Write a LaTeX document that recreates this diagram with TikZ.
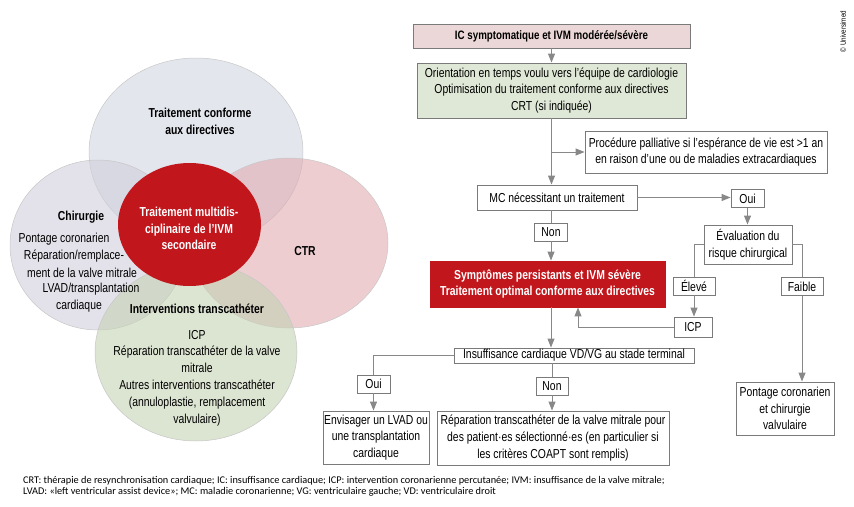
\documentclass[tikz,border=0pt]{standalone}
\usepackage{fontspec}
\setmainfont{Liberation Sans}[FakeStretch=0.8]
\newfontfamily\notefont{Carlito}
\usepackage{xcolor}
\usetikzlibrary{arrows.meta,calc,positioning}
\definecolor{boxline}{HTML}{7A7A7A}
\definecolor{connline}{HTML}{888888}
\definecolor{ivmred}{HTML}{C1161C}
\definecolor{pinkfill}{HTML}{EBD7D7}
\definecolor{greenfill}{HTML}{DFE8D6}
\definecolor{vennblue}{RGB}{210,213,227}
\definecolor{venngray}{RGB}{208,207,220}
\definecolor{vennpink}{RGB}{225,172,177}
\definecolor{venngreen}{RGB}{197,210,180}
\newcommand{\boxfont}{\fontsize{13}{16.8}\selectfont}
\newcommand{\notesize}{\notefont\fontsize{10.3}{10}\selectfont}

\begin{document}
\begin{tikzpicture}[x=1pt,y=-1pt]
		\tikzstyle{every node}=[font=\boxfont, inner sep=0pt]
		\tikzstyle{head}=[font=\boxfont\bfseries, align=center]
		\tikzstyle{box}=[draw=boxline, line width=0.9pt, fill=white, align=center]
		\tikzstyle{tag}=[box, minimum height=18, minimum width=33]
		\tikzstyle{conn}=[draw=connline, line width=1pt]
		\tikzstyle{arr}=[conn, -{Triangle[length=9pt,width=7pt]}]
		\tikzstyle{venn}=[draw=black!22, line width=0.5pt, fill opacity=0.6]
		\useasboundingbox (0,0) rectangle (854,506);
		% Venn
		\draw [venn, fill=vennblue] (196,152) ellipse [x radius=107, y radius=94];
		\draw [venn, fill=venngray] (98,245) ellipse [x radius=88, y radius=85];
		\draw [venn, fill=vennpink] (289,243) ellipse [x radius=99, y radius=85];
		\draw [venn, fill=venngreen] (196,352) ellipse [x radius=101, y radius=89];
		\fill [ivmred] (189.5,224.5) ellipse [x radius=71.5, y radius=61.5];
		\node [head] (gdmt) at (200,121.5) {Traitement conforme\\aux directives};
		\node [head] (chir) at (81,217) {Chirurgie};
		\node (chir1) at (64,239) {Pontage coronarien};
		\node (chir2) at (74,256) {Réparation/remplace-};
		\node (chir3) at (82,272.5) {ment de la valve mitrale};
		\node (chir4) at (91,289) {LVAD/transplantation};
		\node (chir5) at (79,306) {cardiaque};
		\node [head, text=white] (multi) at (189,228.5) {Traitement multidis-\\ciplinaire de l'IVM\\secondaire};
		\node [head] (ctr) at (305,251) {CTR};
		\node [head] (trans) at (197,309) {Interventions transcathéter};
		\node [align=center] (trans1) at (197,378) {ICP\\Réparation transcathéter de la valve\\mitrale\\Autres interventions transcathéter\\(annuloplastie, remplacement\\valvulaire)};
		% Flowchart
		\node [box, fill=pinkfill, font=\fontsize{12.2}{16}\selectfont\bfseries, minimum width=277, minimum height=24] (start) at (551.5,36) {IC symptomatique et IVM modérée/sévère};
		\node [box, fill=greenfill, minimum width=269, minimum height=55] (orient) at (551.5,90.5) {Orientation en temps voulu vers l'équipe de cardiologie\\Optimisation du traitement conforme aux directives\\CRT (si indiquée)};
		\node [box, minimum width=242, minimum height=42] (pall) at (706,152) {Procédure palliative si l'espérance de vie est >1 an\\en raison d'une ou de maladies extracardiaques};
		\node [box, minimum width=160, minimum height=25] (mc) at (557,197.5) {MC nécessitant un traitement};
		\node [tag] (non1) at (551,232) {Non};
		\node [box, fill=ivmred, draw=ivmred, text=white, font=\boxfont\bfseries, minimum width=235, minimum height=46] (sympt) at (547.5,284) {Symptômes persistants et IVM sévère\\Traitement optimal conforme aux directives};
		\node [tag] (oui1) at (747.5,198.5) {Oui};
		\node [box, minimum width=88, minimum height=39] (eval) at (748,244.5) {Évaluation du\\risque chirurgical};
		\node [tag, minimum width=42] (eleve) at (694,286) {Élevé};
		\node [tag, minimum width=42] (faible) at (802,286.5) {Faible};
		\node [tag, minimum width=38, minimum height=20] (icp) at (693,327) {ICP};
		\node [box, minimum width=240, minimum height=15] (insuf) at (574,355.5) {Insuffisance cardiaque VD/VG au stade terminal};
		\node [tag] (oui2) at (373.5,384) {Oui};
		\node [tag, minimum width=32] (non2) at (552,386) {Non};
		\node [box, minimum width=106, minimum height=53] (lvad) at (376,437.5) {Envisager un LVAD ou\\une transplantation\\cardiaque};
		\node [box, minimum width=232, minimum height=54] (teer) at (553,438) {Réparation transcathéter de la valve mitrale pour\\des patient·es sélectionné·es (en particulier si\\les critères COAPT sont remplis)};
		\node [box, minimum width=98, minimum height=53] (cabg) at (785,408.5) {Pontage coronarien\\et chirurgie\\valvulaire};
		\coordinate (back) at (578,0);
		\draw [arr] (start.south) -- (orient.north);
		\draw [arr] (orient.south) -- (orient.south |- mc.north);
		\draw [arr] (orient.south |- pall.west) -- (pall.west);
		\draw [conn] (mc.south -| non1) -- (non1.north);
		\draw [arr] (non1.south) -- (non1.south |- sympt.north);
		\draw [arr] (mc.east) -- (mc.east -| oui1.west);
		\draw [arr] (oui1.south) -- (oui1.south |- eval.north);
		\draw [conn] (eval.west) -| (eleve.north);
		\draw [arr] (eleve.south) -- (eleve.south |- icp.north);
		\draw [conn] (eval.east) -| (faible.north);
		\draw [arr] (faible.south) -- (faible.south |- cabg.north);
		\draw [arr] (icp.west) -| (back |- sympt.south);
		\draw [arr] (non1.south |- sympt.south) -- (non1.south |- insuf.north);
		\draw [conn] (insuf.west) -| (oui2.north);
		\draw [arr] (oui2.south) -- (oui2.south |- lvad.north);
		\draw [conn] (insuf.south -| non2) -- (non2.north);
		\draw [arr] (non2.south) -- (non2.south |- teer.north);
		% notes
		\node [font=\notesize, anchor=west] (note1) at (23,481) {CRT: thérapie de resynchronisation cardiaque; IC: insuffisance cardiaque; ICP: intervention coronarienne percutanée; IVM: insuffisance de la valve mitrale;};
		\node [font=\notesize, anchor=west] (note2) at (23,491.5) {LVAD: «left ventricular assist device»; MC: maladie coronarienne; VG: ventriculaire gauche; VD: ventriculaire droit};
		\node [font=\fontsize{7.8}{8}\selectfont, rotate=90] (copy) at (843,31.5) {© Universimed};
	\end{tikzpicture}
\end{document}
